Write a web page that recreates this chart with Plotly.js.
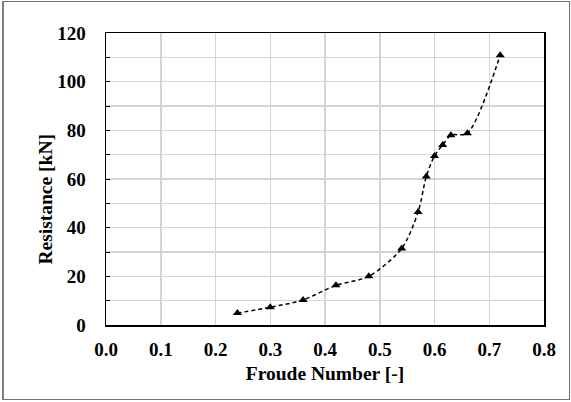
<!DOCTYPE html>
<html>
<head>
<meta charset="utf-8">
<script src="https://cdn.plot.ly/plotly-3.0.1.min.js"></script>
<style>
html,body{margin:0;padding:0;background:#fff;}
#wrap{position:relative;width:571px;height:402px;}
#chart{width:571px;height:402px;}
#frame{position:absolute;left:2px;top:1px;width:565px;height:397px;border:1px solid #707070;border-left:2px solid #808080;pointer-events:none;}
</style>
</head>
<body>
<div id="wrap">
<div id="chart"></div>
<div id="frame"></div>
</div>
<script>
var froude = [0.24, 0.30, 0.36, 0.42, 0.48, 0.54, 0.57, 0.585, 0.60, 0.615, 0.63, 0.66, 0.72];
var resistance = [4.9, 7.3, 10.3, 16.3, 20.0, 31.4, 46.4, 61.0, 69.5, 74.0, 78.0, 78.8, 110.9];
var xTitle = 'Froude Number [-]';
var yTitle = 'Resistance [kN]';

var fontFam = '"Liberation Serif", "Times New Roman", serif';

var trace = {
  x: froude,
  y: resistance,
  type: 'scatter',
  mode: 'lines+markers',
  line: {color: '#000', width: 1.5, dash: '4px,3px', shape: 'spline', smoothing: 0.8},
  marker: {symbol: 'triangle-up', size: 8, color: '#000'},
  showlegend: false,
  hoverinfo: 'x+y'
};

var layout = {
  width: 571,
  height: 402,
  margin: {l: 106, r: 27, t: 33, b: 77},
  paper_bgcolor: '#fff',
  plot_bgcolor: '#fff',
  font: {family: fontFam, color: '#000'},
  xaxis: {
    range: [0, 0.8],
    dtick: 0.1,
    tick0: 0,
    tickformat: '.1f',
    showgrid: true,
    gridcolor: '#d4d4d4',
    gridwidth: 1.5,
    zeroline: false,
    showline: true,
    linecolor: '#000',
    linewidth: 1.5,
    mirror: true,
    ticks: '',
    tickfont: {family: fontFam, size: 19, color: '#000', weight: 'bold'},
    ticklabelstandoff: 7,
    title: {text: '<b>' + xTitle + '</b>', font: {family: fontFam, size: 19.5, color: '#000'}, standoff: 7}
  },
  yaxis: {
    range: [0, 120],
    dtick: 20,
    tick0: 0,
    showgrid: true,
    gridcolor: '#d4d4d4',
    gridwidth: 1.5,
    zeroline: false,
    showline: true,
    linecolor: '#000',
    linewidth: 1.5,
    mirror: true,
    ticks: 'inside',
    ticklen: 4,
    tickcolor: '#000',
    tickfont: {family: fontFam, size: 19, color: '#000', weight: 'bold'},
    ticklabelstandoff: 15,
    minor: {dtick: 10, showgrid: true, gridcolor: '#d4d4d4', gridwidth: 1.5, ticks: 'inside', ticklen: 4, tickcolor: '#000'}
  },
  annotations: [{
    text: '<b>' + yTitle + '</b>',
    xref: 'paper', yref: 'paper',
    x: -0.139, y: 0.43,
    xanchor: 'center', yanchor: 'middle',
    textangle: -90,
    showarrow: false,
    font: {family: fontFam, size: 19.5, color: '#000'}
  }]
};

Plotly.newPlot('chart', [trace], layout, {displayModeBar: false, staticPlot: true});
</script>
</body>
</html>
